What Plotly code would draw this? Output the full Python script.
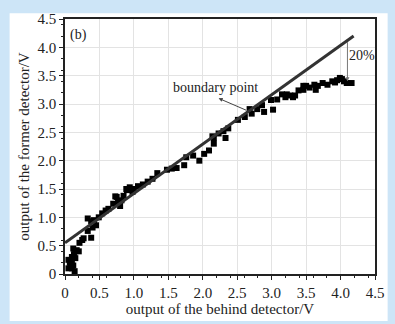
import plotly.graph_objects as go

# data
x_data = [0.05, 0.07, 0.10, 0.12, 0.10, 0.13, 0.15, 0.12, 0.08, 0.10, 0.15, 0.17, 0.20, 0.05, 0.14,
          0.21, 0.25, 0.38, 0.33, 0.27, 0.33, 0.38, 0.42, 0.45, 0.40, 0.49, 0.54, 0.59, 0.63, 0.70,
          0.75, 0.77, 0.82, 0.85, 0.89, 0.94, 0.98, 1.00, 0.80, 0.73, 0.90,
          1.06, 1.13, 1.20, 1.34, 1.48, 1.62, 1.73, 1.76, 1.86, 1.95, 2.02, 2.09, 2.16, 2.16, 1.27, 1.55,
          2.14, 2.23, 2.30, 2.33, 2.37, 2.51, 2.61, 2.71, 2.68, 2.79, 2.89, 2.86, 2.99, 3.02, 3.08, 3.15, 3.20, 3.27,
          3.22, 3.31, 3.34, 3.39, 3.46, 3.46, 3.50, 3.55, 3.62, 3.64, 3.67, 3.74, 3.81, 3.88, 3.95, 3.99,
          4.05, 4.09, 4.16, 4.02, 3.92]
y_data = [0.25, 0.20, 0.10, 0.15, 0.30, 0.35, 0.40, 0.45, 0.15, 0.22, 0.28, 0.42, 0.40, 0.10, 0.05,
          0.55, 0.60, 0.64, 0.76, 0.63, 0.98, 0.93, 0.95, 0.86, 0.82, 1.00, 1.07, 1.12, 1.15, 1.24,
          1.36, 1.27, 1.30, 1.38, 1.50, 1.53, 1.45, 1.50, 1.20, 1.37, 1.48,
          1.55, 1.58, 1.63, 1.78, 1.84, 1.87, 1.92, 2.06, 2.09, 2.00, 2.12, 2.18, 2.30, 2.40, 1.68, 1.86,
          2.43, 2.48, 2.52, 2.40, 2.57, 2.72, 2.77, 2.83, 2.91, 2.91, 2.86, 2.98, 3.07, 2.90, 3.08, 3.17, 3.12, 3.15,
          3.17, 3.12, 3.15, 3.24, 3.25, 3.32, 3.32, 3.29, 3.34, 3.25, 3.32, 3.37, 3.34, 3.40, 3.42, 3.46,
          3.40, 3.37, 3.37, 3.44, 3.38]
fit_x = [0.0, 4.19]
fit_y = [0.55, 4.20]
x_ticks = [0, 0.5, 1.0, 1.5, 2.0, 2.5, 3.0, 3.5, 4.0, 4.5]
x_ticklabels = ["0", "0.5", "1.0", "1.5", "2.0", "2.5", "3.0", "3.5", "4.0", "4.5"]
y_ticks = [0, 0.5, 1.0, 1.5, 2.0, 2.5, 3.0, 3.5, 4.0, 4.5]
y_ticklabels = ["0", "0.5", "1.0", "1.5", "2.0", "2.5", "3.0", "3.5", "4.0", "4.5"]

FONT = "Liberation Serif"

fig = go.Figure()
fig.add_trace(go.Scatter(x=x_data, y=y_data, mode="markers",
                         marker=dict(symbol="square", size=6, color="black"),
                         showlegend=False))
fig.add_trace(go.Scatter(x=fit_x, y=fit_y, mode="lines",
                         line=dict(color="#333333", width=3), showlegend=False))

W, H = 395, 324
L, R, T, B = 65, 11, 14, 46.5
pw, ph = W - L - R, H - T - B

def px(xp):
    return (xp - L) / pw

def py(yp):
    return (H - B - yp) / ph

fig.add_shape(type="rect", xref="paper", yref="paper",
              x0=px(8), x1=px(W + 2), y0=py(8), y1=py(H + 2),
              fillcolor="white", line=dict(width=0), layer="below")

axis_common = dict(showline=True, linecolor="#222222", linewidth=1.5, mirror=True,
                   showgrid=True, gridcolor="#e3e3e3", gridwidth=1,
                   ticks="outside", ticklen=4, tickcolor="#222222",
                   minor=dict(ticks="outside", ticklen=2, tickcolor="#222222", showgrid=False),
                   zeroline=False, tickfont=dict(family=FONT, size=15, color="#222222"))

fig.update_xaxes(range=[0, 4.5], tickvals=x_ticks, ticktext=x_ticklabels,
                 title=dict(text="output of the behind detector/V", font=dict(family=FONT, size=15, color="#222222"), standoff=2),
                 **axis_common)
fig.update_yaxes(range=[0, 4.5], tickvals=y_ticks, ticktext=y_ticklabels,
                 title=dict(text="output of the former detector/V", font=dict(family=FONT, size=15, color="#222222"), standoff=4),
                 **axis_common)

fig.add_annotation(x=0.2, y=4.22, text="(b)", showarrow=False,
                   font=dict(family=FONT, size=14, color="#222222"))
fig.add_annotation(x=2.19, y=3.29, text="boundary point", showarrow=False,
                   font=dict(family=FONT, size=14, color="#222222"))
fig.add_annotation(x=2.23, y=3.10, ax=2.65, ay=2.88, axref="x", ayref="y",
                   text="", showarrow=True, arrowhead=2, arrowsize=0.8, arrowwidth=1,
                   arrowcolor="#444444")
fig.add_annotation(x=4.10, y=3.40, ax=4.10, ay=4.12, axref="x", ayref="y",
                   text="", showarrow=True, arrowhead=2, arrowsize=0.8, arrowwidth=1,
                   arrowcolor="#777777")
fig.add_annotation(x=4.31, y=3.85, text="20%", showarrow=False,
                   font=dict(family=FONT, size=14, color="#222222"))

fig.update_layout(width=W, height=H, margin=dict(l=L, r=R, t=T, b=B),
                  paper_bgcolor="#cde5f7", plot_bgcolor="rgba(0,0,0,0)")

fig.write_html("out.html")
